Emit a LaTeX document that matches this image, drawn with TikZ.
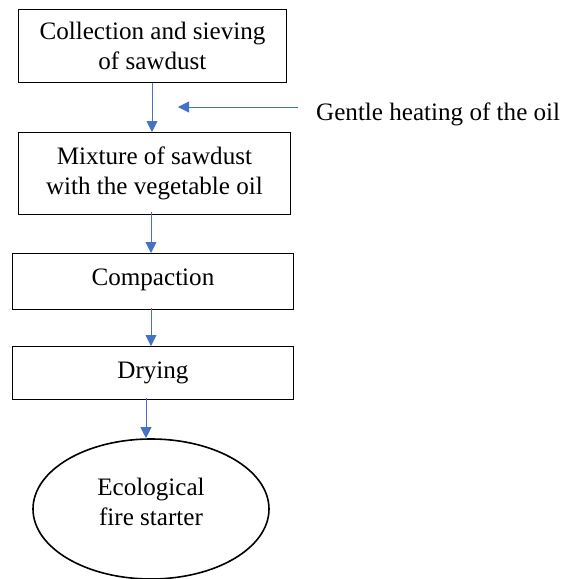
\documentclass[tikz,border=0pt]{standalone}
\usepackage{fontspec}
\setmainfont{Liberation Serif}
\usetikzlibrary{arrows.meta,shapes.geometric}
\definecolor{arrblue}{HTML}{4472C4}
\tikzset{
  stepbox/.style={draw=black, line width=0.9pt, inner sep=0pt, anchor=north west, align=center},
  flow/.style={draw=arrblue, line width=0.9pt, -{Triangle[length=11pt,width=11pt]}},
  lbl/.style={font=\fontsize{25.1}{30}\selectfont, align=center}
}
\begin{document}
\begin{tikzpicture}[x=1pt,y=-1pt]
\useasboundingbox (0,0) rectangle (562,579);
\node[stepbox, minimum width=268pt, minimum height=73pt] (b1) at (18,9) {};
\node[lbl] at (b1.center) {Collection and sieving\\of sawdust};
\node[stepbox, minimum width=272pt, minimum height=82pt] (b2) at (18,132) {};
\node[lbl] at (b2.center) {Mixture of sawdust\\with the vegetable oil};
\node[stepbox, minimum width=281pt, minimum height=56pt] (b3) at (12,253) {};
\node[lbl] at ([yshift=2pt]b3.center) {Compaction};
\node[stepbox, minimum width=281pt, minimum height=53pt] (b4) at (12,346) {};
\node[lbl] at (b4.center) {Drying};
\node[draw=black, line width=1.6pt, ellipse, minimum width=236pt, minimum height=140pt, inner sep=0pt] (e) at (151,509) {};
\node[lbl] at (151,502) {Ecological\\fire starter};
\node[lbl, anchor=west, inner sep=0pt] (heat) at (316,114) {Gentle heating of the oil};
\coordinate (hs) at (298,107);
\coordinate (he) at (178,107);
\draw[flow] (hs) -- (he);
\draw[flow] (b1.south -| 152,0) -- (b2.north -| 152,0);
\draw[flow] ([yshift=3pt]b2.south -| 151,0) -- (b3.north -| 151,0);
\draw[flow] ([yshift=2pt]b3.south -| 151,0) -- (b4.north -| 151,0);
\draw[flow] ([yshift=2pt]b4.south -| 146,0) -- (e.north -| 146,0);
\end{tikzpicture}
\end{document}
